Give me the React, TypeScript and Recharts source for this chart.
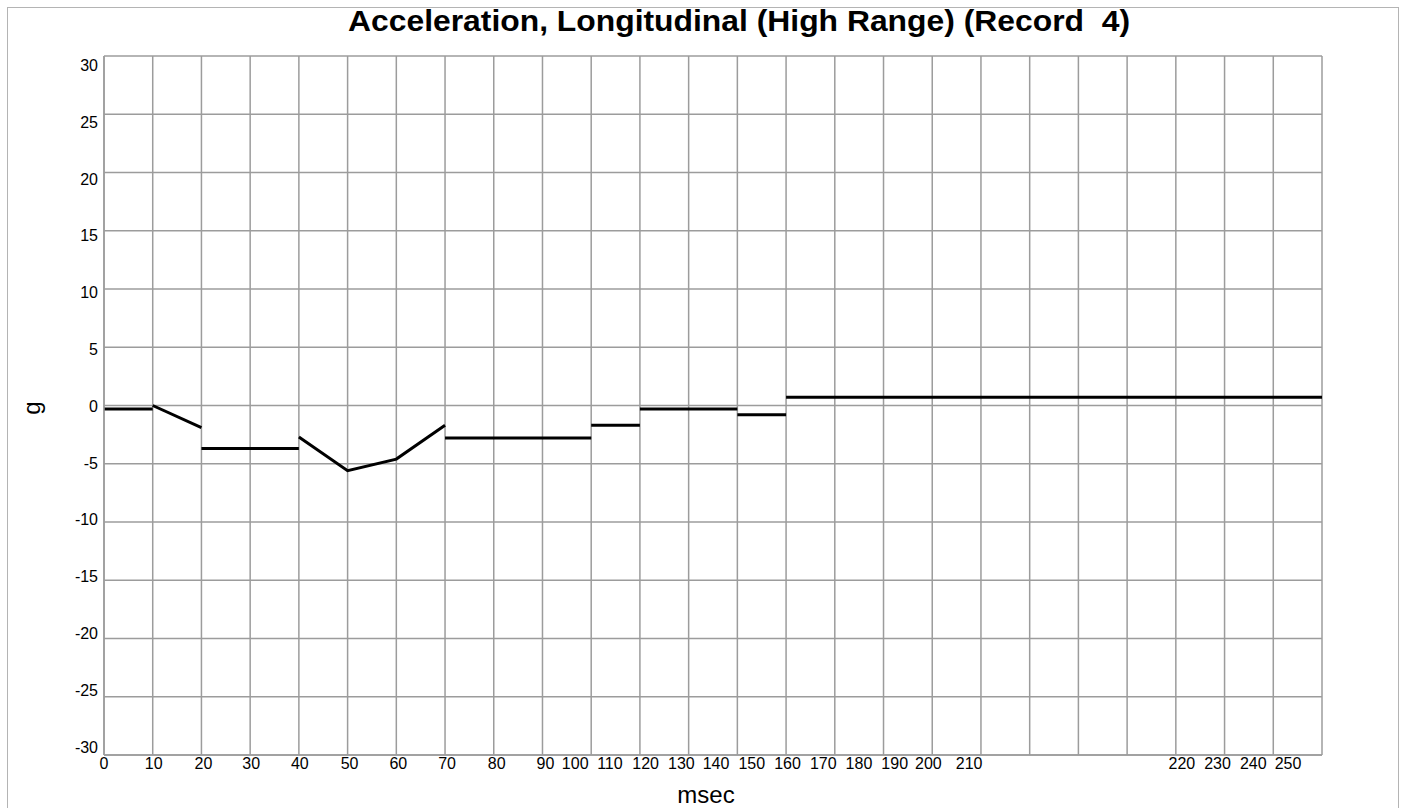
import React from 'react';
import { CartesianGrid, Line, LineChart, XAxis, YAxis } from 'recharts';

// time axis (msec) and acceleration axis (g)
const msecTicks = [
  0, 10, 20, 30, 40, 50, 60, 70, 80, 90, 100, 110, 120, 130, 140, 150, 160,
  170, 180, 190, 200, 210, 220, 230, 240, 250,
];
const gTicks = [-30, -25, -20, -15, -10, -5, 0, 5, 10, 15, 20, 25, 30];

// recorded trace, drawn as separate pieces
const segmentTimes = [
  [0, 10],
  [10, 20],
  [20, 40],
  [40, 50, 60, 70],
  [70, 100],
  [100, 110],
  [110, 130],
  [130, 140],
  [140, 250],
];
const segmentValues = [
  [-0.3, -0.3],
  [0.0, -1.9],
  [-3.7, -3.7],
  [-2.7, -5.6, -4.6, -1.7],
  [-2.8, -2.8],
  [-1.7, -1.7],
  [-0.3, -0.3],
  [-0.8, -0.8],
  [0.7, 0.7],
];

// horizontal nudge (px) of each msec label from its grid line
const msecLabelNudge = [
  0, 1, 2, 1, 1, 2, 2, 2, 3, 3, -16, -30, -43, -56, -70, -83, -96, -109, -122,
  -135, -150, -158, 6, -7, -20, -34,
];

const segments = segmentTimes.map((times, i) =>
  times.map((t, j) => ({ t, g: segmentValues[i][j] }))
);

const FONT = '"Liberation Sans", Arial, sans-serif';
const GRID = '#9c9c9c';

const MsecTick = (props: any) => {
  const { x, y, payload, index } = props;
  return (
    <text
      x={x + (msecLabelNudge[index] ?? 0)}
      y={y}
      dy='0.72em'
      textAnchor='middle'
      fontSize={16}
      fontFamily={FONT}
      fill='#000'
    >
      {payload.value}
    </text>
  );
};

const GTick = (props: any) => {
  const { x, y, payload } = props;
  // labels drift slightly from their grid lines toward the middle
  const drift = 0.6 + 0.29 * payload.value;
  return (
    <text
      x={x}
      y={y + drift + 5.7}
      textAnchor='end'
      fontSize={16}
      fontFamily={FONT}
      fill='#000'
    >
      {payload.value}
    </text>
  );
};

export default function App() {
  return (
    <div
      style={{
        position: 'absolute',
        left: 0,
        top: 0,
        width: 1404,
        height: 808,
        background: '#fff',
        overflow: 'hidden',
      }}
    >
      <LineChart
        width={1404}
        height={808}
        margin={{ top: 56, right: 82, bottom: 23, left: 64 }}
      >
        <CartesianGrid stroke={GRID} strokeWidth={1.5} />
        <XAxis
          type='number'
          dataKey='t'
          domain={[0, 250]}
          ticks={msecTicks}
          interval={0}
          height={30}
          tickLine={false}
          tickSize={0}
          tickMargin={2}
          axisLine={{ stroke: GRID, strokeWidth: 1.5 }}
          tick={<MsecTick />}
        />
        <YAxis
          type='number'
          domain={[-30, 30]}
          ticks={gTicks}
          interval={0}
          width={40}
          tickLine={false}
          tickSize={0}
          tickMargin={6}
          axisLine={{ stroke: GRID, strokeWidth: 1.5 }}
          tick={<GTick />}
        />
        {segments.map((seg, i) => (
          <Line
            key={i}
            data={seg}
            dataKey='g'
            type='linear'
            stroke='#000'
            strokeWidth={3}
            dot={false}
            activeDot={false}
            isAnimationActive={false}
          />
        ))}
      </LineChart>
      <svg
        width={1404}
        height={808}
        style={{ position: 'absolute', left: 0, top: 0, pointerEvents: 'none' }}
      >
        <rect
          x={7.5}
          y={7.5}
          width={1391}
          height={820}
          fill='none'
          stroke='#b4b4b4'
          strokeWidth={1}
        />
        <text
          x={739}
          y={31}
          textAnchor='middle'
          fontSize={30}
          fontWeight='bold'
          fontFamily={FONT}
          textLength={782}
          lengthAdjust='spacingAndGlyphs'
          fill='#000'
          style={{ whiteSpace: 'pre' }}
        >
          {'Acceleration, Longitudinal (High Range) (Record  4)'}
        </text>
        <text
          x={40}
          y={408}
          transform='rotate(-90 40 408)'
          textAnchor='middle'
          fontSize={24}
          fontFamily={FONT}
          fill='#000'
        >
          g
        </text>
        <text
          x={706}
          y={803}
          textAnchor='middle'
          fontSize={24}
          fontFamily={FONT}
          fill='#000'
        >
          msec
        </text>
      </svg>
    </div>
  );
}
